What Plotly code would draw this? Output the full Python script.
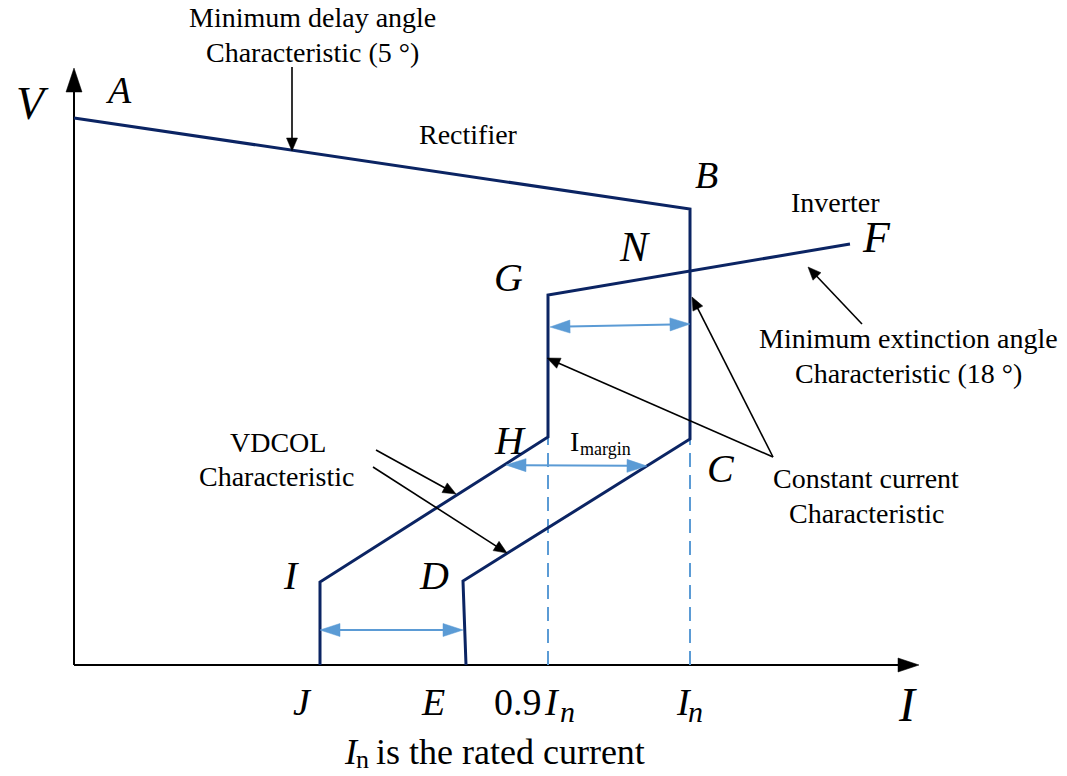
import math
import plotly.graph_objects as go

# Diagram units: current I to the right, voltage V upward, origin at the axes corner
FONT = "Liberation Serif, Times New Roman, serif"
NAVY = "#0B2463"
BLUE = "#5B9BD5"
BLACK = "#000000"

# Rectifier characteristic A-B-C-D-E
rect_I = [0, 616, 616, 389, 392]
rect_V = [547, 456, 226, 84, 0]
# Inverter characteristic F-G-H-I-J
inv_I = [776, 474, 474, 246, 246]
inv_V = [421, 370, 228, 83, 0]

# Current reference lines at 0.9In and In
ref_I = [474, 616]
ref_top = 227

# Axis extents
axis_I_max = 845
axis_V_max = 597

# Margin arrows (double headed): start, end
margin_arrows = [
    ((476, 338), (616, 341)),   # between the constant current lines
    ((432, 200), (573, 199)),   # I_margin
    ((246, 35), (389, 35)),     # between J and E
]
# Pointer arrows: tail, tip
pointer_arrows = [
    ((218, 598), (218, 514)),   # minimum delay angle
    ((788, 341), (734, 398)),   # minimum extinction angle
    ((699, 208), (618, 368)),   # constant current (rectifier)
    ((699, 208), (473, 307)),   # constant current (inverter)
    ((302, 215), (382, 171)),   # VDCOL (inverter)
    ((299, 198), (433, 112)),   # VDCOL (rectifier)
]

fig = go.Figure()


def head(tail, tip, length, width, color):
    dx, dy = tip[0] - tail[0], tip[1] - tail[1]
    d = math.hypot(dx, dy)
    ux, uy = dx / d, dy / d
    bx, by = tip[0] - ux * length, tip[1] - uy * length
    px, py = -uy * width / 2, ux * width / 2
    fig.add_trace(go.Scatter(
        x=[tip[0], bx + px, bx - px, tip[0]],
        y=[tip[1], by + py, by - py, tip[1]],
        mode="lines", fill="toself", fillcolor=color,
        line=dict(color=color, width=0.5), hoverinfo="skip"))
    return (bx + ux * 2, by + uy * 2)


def segment(p0, p1, color, width, dash=None):
    fig.add_trace(go.Scatter(
        x=[p0[0], p1[0]], y=[p0[1], p1[1]], mode="lines",
        line=dict(color=color, width=width, dash=dash), hoverinfo="skip"))


# Axes with arrowheads
end_y = head((0, 0), (0, axis_V_max), 24, 16, BLACK)
segment((0, 0), end_y, BLACK, 2)
end_x = head((0, 0), (axis_I_max, 0), 21, 14, BLACK)
segment((0, 0), end_x, BLACK, 2)

# Dashed current references
for xi in ref_I:
    segment((xi, 0), (xi, ref_top), BLUE, 2, dash="14px,8px")

# Characteristics
fig.add_trace(go.Scatter(x=rect_I, y=rect_V, mode="lines",
                         line=dict(color=NAVY, width=3), hoverinfo="skip"))
fig.add_trace(go.Scatter(x=inv_I, y=inv_V, mode="lines",
                         line=dict(color=NAVY, width=3), hoverinfo="skip"))

# Margin arrows
for a, b in margin_arrows:
    s = head(b, a, 20, 13, BLUE)
    e = head(a, b, 20, 13, BLUE)
    segment(s, e, BLUE, 2)

# Pointer arrows
for tail, tip in pointer_arrows:
    e = head(tail, tip, 13, 11, BLACK)
    segment(tail, e, BLACK, 1.6)


def label(x, y, text, size, italic=False, anchor="center"):
    fig.add_annotation(x=x, y=y, xref="x", yref="y", text=text, showarrow=False,
                       font=dict(family=FONT, size=size, color=BLACK,
                                 style="italic" if italic else "normal"),
                       xanchor=anchor, yanchor="middle")


# Point letters
label(-42, 562, "V", 46, True)
label(44, 575, "A", 38, True)
label(632, 490, "B", 38, True)
label(802, 428, "F", 44, True)
label(560, 418, "N", 42, True)
label(434, 388, "G", 40, True)
label(436, 225, "H", 40, True)
label(647, 197, "C", 40, True)
label(217, 90, "I", 40, True)
label(360, 90, "D", 40, True)
label(228, -37, "J", 38, True)
label(359, -37, "E", 38, True)
label(833, -39, "I", 48, True)

# 0.9 In and In on the current axis
label(470, -37, "0.9", 38, anchor="right")
label(478, -37, "I", 38, True)
label(493, -46, "n", 30, True)
label(610, -37, "I", 38, True)
label(621, -46, "n", 30, True)

# Descriptive texts
label(238, 648, "Minimum delay angle", 28)
label(238, 613, "Characteristic (5 °)", 28)
label(394, 531, "Rectifier", 28)
label(761, 463, "Inverter", 28)
label(834, 327, "Minimum extinction angle", 28)
label(834, 292, "Characteristic (18 °)", 28)
label(792, 187, "Constant current", 28)
label(792, 152, "Characteristic", 28)
label(204, 223, "VDCOL", 28)
label(202, 189, "Characteristic", 28)

# I_margin
label(500, 224, "I", 28)
label(504, 216, "margin", 18, anchor="left")

# Footnote: In is the rated current
label(277, -87, "I", 36, True)
label(288, -94, "n", 26)
label(300, -87, "is the rated current", 36, anchor="left")

fig.update_layout(
    width=1067, height=776,
    margin=dict(l=0, r=0, t=0, b=0),
    paper_bgcolor="white", plot_bgcolor="white",
    showlegend=False,
    xaxis=dict(range=[-74, 993], visible=False, fixedrange=True),
    yaxis=dict(range=[-111, 665], visible=False, fixedrange=True),
)

fig.write_html("out.html")
